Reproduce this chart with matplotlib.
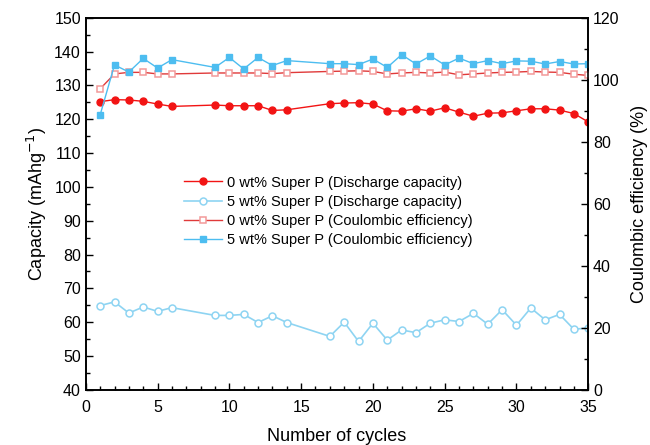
import numpy as np
import matplotlib
matplotlib.use('Agg')
import matplotlib.pyplot as plt

cycles = [1, 2, 3, 4, 5, 6, 9, 10, 11, 12, 13, 14, 17, 18, 19, 20, 21, 22, 23, 24,
          25, 26, 27, 28, 29, 30, 31, 32, 33, 34, 35]

# discharge capacity (mAh/g), left axis
cap_0wt = [125.2, 125.8, 125.7, 125.3, 124.5, 123.8, 124.2, 124.0, 124.0, 124.0, 122.6, 122.8,
           124.6, 124.8, 124.9, 124.5, 122.5, 122.4, 123.1, 122.4, 123.4, 122.1, 120.9, 121.8,
           121.9, 122.5, 123.1, 123.1, 122.7, 121.7, 119.2]
cap_5wt = [64.9, 66.0, 62.7, 64.5, 63.2, 64.3, 62.0, 62.0, 62.3, 59.9, 61.9, 59.9,
           55.8, 60.0, 54.3, 59.7, 54.7, 57.7, 56.9, 59.7, 60.7, 60.2, 62.6, 59.4,
           63.7, 59.1, 64.2, 60.7, 62.3, 57.9, 58.3]

# coulombic efficiency (%), right axis
ce_0wt = [97.1, 101.9, 102.4, 102.4, 101.9, 101.9, 102.2, 102.2, 102.2, 102.2, 102.0, 102.3,
          102.7, 102.8, 102.9, 102.7, 101.9, 102.2, 102.4, 102.2, 102.5, 101.6, 101.9, 102.2,
          102.4, 102.5, 102.7, 102.5, 102.4, 101.8, 101.4]
ce_5wt = [88.7, 104.8, 102.5, 106.9, 103.8, 106.5, 104.0, 107.2, 103.5, 107.2, 104.6, 106.2,
          105.2, 105.2, 104.9, 106.7, 104.0, 108.1, 105.1, 107.7, 104.8, 107.0, 105.2, 106.2,
          105.2, 106.1, 106.0, 105.1, 105.9, 105.1, 105.2]

plt.rcParams['font.family'] = ['Liberation Sans', 'DejaVu Sans']

fig = plt.figure(figsize=(6.5, 4.45), dpi=100)
ax = fig.add_axes([0.132, 0.124, 0.773, 0.836])
ax2 = ax.twinx()

red = '#f21414'
blue = '#4dbdf0'
light_blue = '#8ed4f2'

l1, = ax.plot(cycles, cap_0wt, '-o', color=red, lw=1, ms=5, mec=red, mfc=red,
              label='0 wt% Super P (Discharge capacity)')
l2, = ax.plot(cycles, cap_5wt, '-o', color=light_blue, lw=1.2, ms=5, mec=light_blue,
              mfc='white', mew=1.1, label='5 wt% Super P (Discharge capacity)')
l3, = ax2.plot(cycles, ce_0wt, '-s', color='#e03a3a', lw=1, ms=5, mec='#f29a9a',
               mfc='white', mew=1.1, label='0 wt% Super P (Coulombic efficiency)')
l4, = ax2.plot(cycles, ce_5wt, '-s', color=blue, lw=1, ms=5, mec=blue, mfc=blue,
               label='5 wt% Super P (Coulombic efficiency)')

ax.set_xlim(0, 35)
ax.set_ylim(40, 150)
ax2.set_ylim(0, 120)
ax.set_xticks(range(0, 36, 5))
ax.set_xticks(range(0, 36), minor=True)
ax.set_yticks(range(40, 151, 10))
ax.set_yticks(range(45, 150, 10), minor=True)
ax2.set_yticks(range(0, 121, 20))
ax2.set_yticks(range(10, 120, 20), minor=True)

ax.tick_params(which='both', direction='in', top=False, labelsize=11.5, width=1)
ax.tick_params(which='major', length=5)
ax.tick_params(which='minor', length=3)
ax.tick_params(axis='x', pad=7)
ax2.tick_params(which='both', direction='in', labelsize=11.5, width=1)
ax2.tick_params(which='major', length=5)
ax2.tick_params(which='minor', length=3)
for a in (ax, ax2):
    for s in a.spines.values():
        s.set_linewidth(1.2)

ax.set_xlabel('Number of cycles', fontsize=13, labelpad=10)
ax.set_ylabel('Capacity (mAhg$^{-1}$)', fontsize=13, labelpad=4)
ax2.set_ylabel('Coulombic efficiency (%)', fontsize=13, labelpad=8)

ax.legend(handles=[l1, l2, l3, l4], loc='center left', bbox_to_anchor=(0.17, 0.48),
          frameon=False, fontsize=10.5, handlelength=2.6, labelspacing=0.35,
          handletextpad=0.3)

fig.savefig('out.png', dpi=100)
